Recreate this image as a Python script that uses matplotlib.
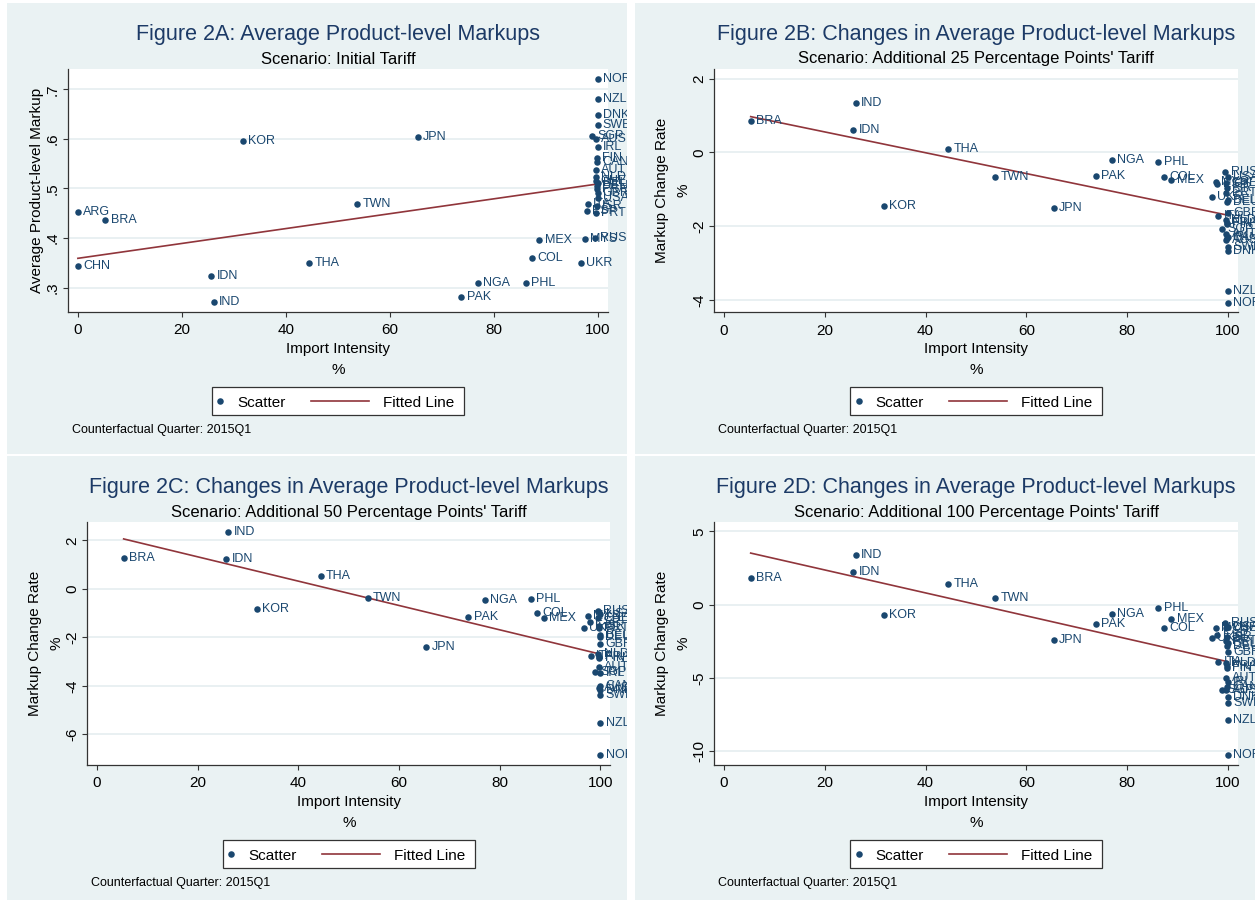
import numpy as np
import matplotlib
matplotlib.use('Agg')
import matplotlib.pyplot as plt
from matplotlib import transforms as mtransforms
from matplotlib.patches import Rectangle
from matplotlib.lines import Line2D

plt.rcParams['font.family'] = ['Liberation Sans', 'DejaVu Sans']

# ---------------- data ----------------
countries = ['CHN', 'ARG', 'BRA', 'IDN', 'IND', 'KOR', 'THA', 'TWN', 'JPN', 'PAK',
             'NGA', 'PHL', 'COL', 'MEX', 'UKR', 'MYS', 'ESP', 'ITA', 'SGP', 'RUS',
             'USA', 'CHE', 'ISR', 'PRT', 'BEL', 'DEU', 'GBR', 'NLD', 'FRA', 'FIN',
             'AUT', 'IRL', 'CAN', 'AUS', 'DNK', 'SWE', 'NZL', 'NOR']
import_intensity = [0.0, 0.0, 5.3, 25.7, 26.1, 31.7, 44.5, 53.8, 65.4, 73.8,
                    77.0, 86.2, 87.4, 88.8, 96.8, 97.6, 97.9, 98.1, 98.9, 99.5,
                    100.0, 99.6, 99.8, 99.7, 100.0, 99.9, 100.0, 99.6, 99.8, 99.8,
                    99.7, 100.0, 99.9, 99.7, 100.0, 100.0, 100.0, 100.0]
markup_initial = [0.344, 0.452, 0.437, 0.324, 0.270, 0.596, 0.349, 0.468, 0.603, 0.281,
                  0.309, 0.309, 0.360, 0.395, 0.350, 0.397, 0.454, 0.468, 0.606, 0.400,
                  0.480, 0.515, 0.464, 0.450, 0.511, 0.505, 0.491, 0.523, 0.499, 0.562,
                  0.537, 0.584, 0.554, 0.600, 0.648, 0.628, 0.680, 0.721]
change_25 = [np.nan, np.nan, 0.85, 0.60, 1.35, -1.44, 0.09, -0.66, -1.50, -0.65,
             -0.20, -0.26, -0.66, -0.75, -1.22, -0.79, -0.86, -1.72, -2.07, -0.54,
             -0.66, -0.82, -0.95, -1.11, -1.29, -1.35, -1.65, -1.83, -1.90, -1.95,
             -2.20, -2.28, -2.33, -2.37, -2.67, -2.56, -3.76, -4.08]
change_50 = [np.nan, np.nan, 1.29, 1.25, 2.35, -0.82, 0.54, -0.38, -2.39, -1.17,
             -0.44, -0.41, -1.00, -1.22, -1.61, -1.10, -1.37, -2.75, -3.42, -0.93,
             -1.04, -1.21, -1.55, -1.62, -1.90, -2.00, -2.28, -2.69, -2.82, -2.86,
             -3.20, -3.48, -3.99, -4.10, -4.18, -4.37, -5.51, -6.85]
change_100 = [np.nan, np.nan, 1.80, 2.25, 3.39, -0.68, 1.41, 0.48, -2.41, -1.34,
              -0.66, -0.25, -1.59, -1.00, -2.27, -1.59, -2.07, -3.89, -5.82, -1.23,
              -1.50, -1.61, -2.18, -2.50, -2.64, -2.80, -3.20, -4.00, -4.16, -4.34,
              -4.98, -5.25, -5.59, -5.84, -6.27, -6.73, -7.89, -10.25]

# fitted line end points
fit_a = [0.359, 0.509]
fit_25 = [0.97, -1.70]
fit_50 = [2.06, -2.69]
fit_100 = [3.52, -3.89]

x_ticks = [0, 20, 40, 60, 80, 100]
x_tick_labels = ['0', '20', '40', '60', '80', '100']
y_ticks_a = [0.3, 0.4, 0.5, 0.6, 0.7]
y_labels_a = ['.3', '.4', '.5', '.6', '.7']
y_ticks_25 = [-4, -2, 0, 2]
y_labels_25 = ['-4', '-2', '0', '2']
y_ticks_50 = [-6, -4, -2, 0, 2]
y_labels_50 = ['-6', '-4', '-2', '0', '2']
y_ticks_100 = [-10, -5, 0, 5]
y_labels_100 = ['-10', '-5', '0', '5']

titles = ["Figure 2A: Average Product-level Markups",
          "Figure 2B: Changes in Average Product-level Markups",
          "Figure 2C: Changes in Average Product-level Markups",
          "Figure 2D: Changes in Average Product-level Markups"]
subtitles = ["Scenario: Initial Tariff",
             "Scenario: Additional 25 Percentage Points' Tariff",
             "Scenario: Additional 50 Percentage Points' Tariff",
             "Scenario: Additional 100 Percentage Points' Tariff"]
footnote = "Counterfactual Quarter: 2015Q1"

# ---------------- style / layout ----------------
W, H = 1255, 902
BG = '#eaf2f3'
GRID = '#e3ecef'
NAVY = '#1a476f'
TITLE_C = '#1c3a66'
FIT_C = '#90353b'
AXC = '#333333'

fig = plt.figure(figsize=(W / 100, H / 100), dpi=100)
fig.patch.set_facecolor('white')


def fx(px):
    return px / W


def fy(py):
    return 1 - py / H


panels = [
    dict(bg=(7, 3, 626.5, 454), ax=(68, 69, 608, 312), y=markup_initial,
         fit=fit_a, ylim=(0.2507, 0.741), yt=y_ticks_a, yl=y_labels_a,
         ytitle=["Average Product-level Markup"]),
    dict(bg=(635, 3, 1255, 454), ax=(714.4, 69, 1238, 312.3), y=change_25,
         fit=fit_25, ylim=(-4.33, 2.26), yt=y_ticks_25, yl=y_labels_25,
         ytitle=["Markup Change Rate", "%"]),
    dict(bg=(7, 456, 626.5, 900), ax=(87.4, 521.7, 610.4, 765), y=change_50,
         fit=fit_50, ylim=(-7.26, 2.77), yt=y_ticks_50, yl=y_labels_50,
         ytitle=["Markup Change Rate", "%"]),
    dict(bg=(635, 456, 1255, 900), ax=(714.4, 521.7, 1238, 765), y=change_100,
         fit=fit_100, ylim=(-10.93, 5.66), yt=y_ticks_100, yl=y_labels_100,
         ytitle=["Markup Change Rate", "%"]),
]

xs_all = np.array(import_intensity, dtype=float)

for i, p in enumerate(panels):
    bx0, by0, bx1, by1 = p['bg']
    fig.add_artist(Rectangle((fx(bx0), fy(by1)), fx(bx1) - fx(bx0), fy(by0) - fy(by1),
                             transform=fig.transFigure, facecolor=BG, edgecolor='none',
                             zorder=-10))
    l, t, r, b = p['ax']
    ax = fig.add_axes([fx(l), fy(b), fx(r) - fx(l), fy(t) - fy(b)])
    ax.set_facecolor('white')
    for s in ['top', 'right']:
        ax.spines[s].set_visible(False)
    for s in ['left', 'bottom']:
        ax.spines[s].set_color(AXC)
        ax.spines[s].set_linewidth(0.9)
    ax.set_xlim(-1.9, 102)
    ax.set_ylim(*p['ylim'])
    ax.set_xticks(x_ticks)
    ax.set_xticklabels(x_tick_labels)
    ax.set_yticks(p['yt'])
    ax.set_yticklabels(p['yl'], rotation=90, va='center')
    ax.tick_params(axis='both', length=3.6, width=0.8, color=AXC, labelsize=11)
    ax.tick_params(axis='x', pad=4.5)
    ax.tick_params(axis='y', pad=2.5)
    ax.set_axisbelow(True)
    ax.yaxis.grid(True, color=GRID, linewidth=1.1)

    ys = np.array(p['y'], dtype=float)
    mask = ~np.isnan(ys)
    xv = xs_all[mask]
    yv = ys[mask]
    names = [c for c, m in zip(countries, mask) if m]

    # fitted line
    fx_line = [xv.min(), xv.max()]
    ax.plot(fx_line, p['fit'], color=FIT_C, lw=1.2, zorder=2, clip_on=False)
    ax.scatter(xv, yv, s=22, color=NAVY, linewidths=0, zorder=3, clip_on=False)

    clipbb = mtransforms.TransformedBbox(
        mtransforms.Bbox.from_extents(fx(bx0), fy(by1), fx(bx1), fy(by0)), fig.transFigure)
    off = mtransforms.offset_copy(ax.transData, fig=fig, x=3.75, y=0, units='points')
    for xx, yy, nm in zip(xv, yv, names):
        tx = ax.text(xx, yy, nm, transform=off, fontsize=9, color=NAVY,
                     ha='left', va='center', zorder=4)
        tx.set_clip_path(None)
        tx.set_clip_box(clipbb)
        tx.set_clip_on(True)

    cx = (l + r) / 2
    # titles
    fig.text(fx(cx), fy(by0 + 37), titles[i], fontsize=15.5, color=TITLE_C,
             ha='center', va='baseline')
    fig.text(fx(cx), fy(by0 + 60.5), subtitles[i], fontsize=12, color='black',
             ha='center', va='baseline')
    # x title
    fig.text(fx(cx), fy(b + 40.7), "Import Intensity", fontsize=11, ha='center',
             va='baseline')
    fig.text(fx(cx), fy(b + 62), "%", fontsize=11, ha='center', va='baseline')
    # y title
    cy = (t + b) / 2
    ylines = p['ytitle']
    if len(ylines) == 1:
        fig.text(fx(l - 27.3), fy(cy), ylines[0], fontsize=11, rotation=90,
                 rotation_mode='anchor', ha='center', va='baseline')
    else:
        fig.text(fx(l - 48.6), fy(cy), ylines[0], fontsize=11, rotation=90,
                 rotation_mode='anchor', ha='center', va='baseline')
        fig.text(fx(l - 27.3), fy(cy), ylines[1], fontsize=11, rotation=90,
                 rotation_mode='anchor', ha='center', va='baseline')
    # legend
    lw_, lh_ = 252, 28
    lx0 = cx - lw_ / 2
    ly0 = b + 75
    fig.add_artist(Rectangle((fx(lx0), fy(ly0 + lh_)), fx(lw_), lh_ / H,
                             transform=fig.transFigure, facecolor='white',
                             edgecolor=AXC, linewidth=0.9))
    fig.add_artist(Line2D([fx(lx0 + 8.4)], [fy(ly0 + 14)], marker='o', ms=4.7,
                          color=NAVY, markeredgewidth=0, linestyle='none',
                          transform=fig.transFigure))
    fig.text(fx(lx0 + 25), fy(ly0 + 19.7), "Scatter", fontsize=11, ha='left',
             va='baseline')
    fig.add_artist(Line2D([fx(lx0 + 99), fx(lx0 + 157)], [fy(ly0 + 14)] * 2,
                          color=FIT_C, lw=1.2, transform=fig.transFigure))
    fig.text(fx(lx0 + 171), fy(ly0 + 19.7), "Fitted Line", fontsize=11, ha='left',
             va='baseline')
    # footnote
    fig.text(fx(l + 3.5), fy(by0 + 430), footnote, fontsize=9, ha='left',
             va='baseline')

fig.savefig('out.png', dpi=100, facecolor='white')
